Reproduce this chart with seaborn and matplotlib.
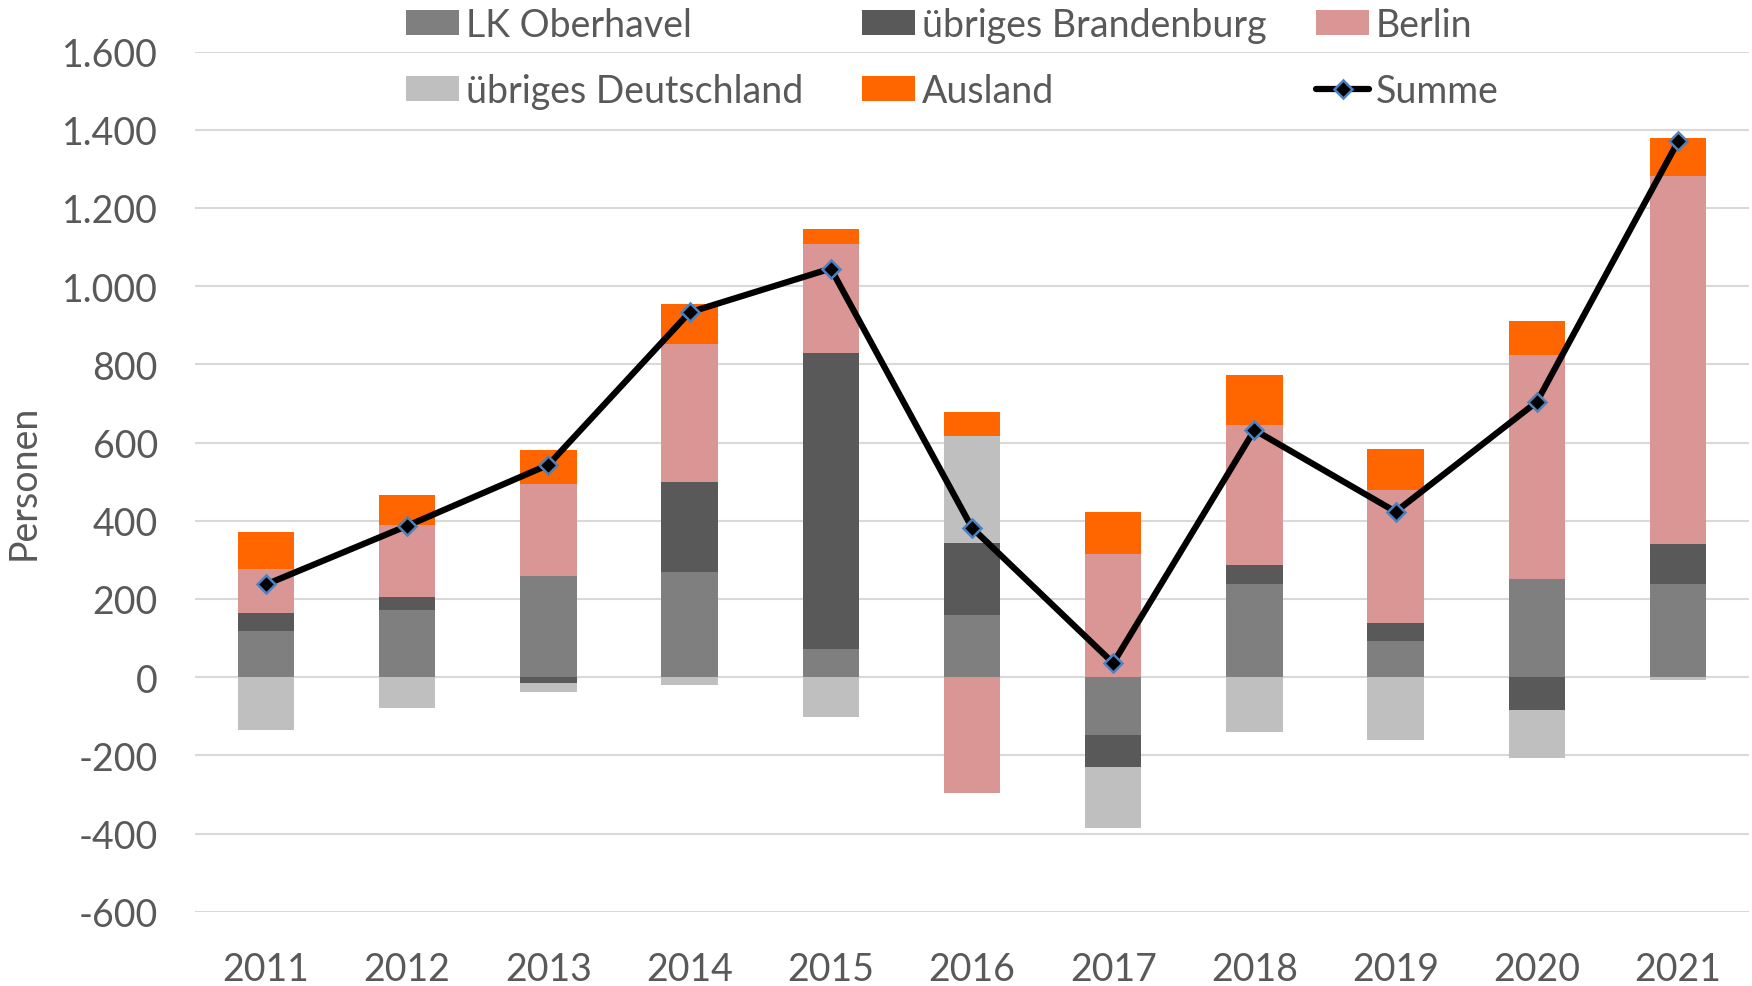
import numpy as np
import pandas as pd
import matplotlib
matplotlib.use("Agg")
import matplotlib.pyplot as plt
import seaborn as sns
from matplotlib.lines import Line2D
from matplotlib.patches import Patch

# ---- data ----
years = ["2011", "2012", "2013", "2014", "2015", "2016", "2017", "2018", "2019", "2020", "2021"]
lk_oberhavel = [119, 173, 258, 270, 71, 160, -148, 239, 93, 251, 237]
uebriges_brandenburg = [46, 31, -15, 228, 759, 184, -82, 47, 46, -84, 103]
berlin = [112, 184, 235, 354, 279, -297, 316, 359, 339, 573, 941]
uebriges_deutschland = [-134, -78, -23, -21, -102, 274, -157, -141, -161, -123, -8]
ausland = [94, 77, 88, 102, 38, 61, 107, 128, 106, 87, 97]
summe = [237, 387, 543, 933, 1045, 382, 36, 632, 423, 704, 1370]

series_names = ["LK Oberhavel", "übriges Brandenburg", "Berlin", "übriges Deutschland", "Ausland"]
series_values = [lk_oberhavel, uebriges_brandenburg, berlin, uebriges_deutschland, ausland]
colors = ["#7F7F7F", "#595959", "#D99694", "#BFBFBF", "#FF6600"]
yticks = [-600, -400, -200, 0, 200, 400, 600, 800, 1000, 1200, 1400, 1600]

TEXT = "#595959"
FS = 27

sns.set_theme(style="white")
plt.rcParams["font.family"] = ["Lato", "DejaVu Sans"]

fig = plt.figure(figsize=(17.52, 9.87), dpi=100)
ax = fig.add_axes([0.1115, 0.0752, 0.8866, 0.8716])

vals = np.array(series_values, dtype=float)
cum_pos = np.cumsum(np.clip(vals, 0, None), axis=0)
cum_neg = np.cumsum(np.clip(vals, None, 0), axis=0)

# paint cumulative stacks from top layer downwards
for i in reversed(range(len(series_names))):
    for cum in (cum_pos, cum_neg):
        df = pd.DataFrame({"Jahr": years, "wert": cum[i]})
        sns.barplot(data=df, x="Jahr", y="wert", order=years, color=colors[i],
                    saturation=1, width=0.4, linewidth=0, errorbar=None, ax=ax,
                    zorder=2)

sns.lineplot(x=np.arange(len(years)), y=summe, ax=ax, color="black", linewidth=4.5,
             marker="D", markersize=9.5, markerfacecolor="black",
             markeredgecolor="#4F81BD", markeredgewidth=1.8, zorder=5)

ax.set_xlim(-0.5, len(years) - 0.5)
ax.set_ylim(-600, 1600)
ax.set_yticks(yticks)
ax.set_yticklabels([f"{v:,}".replace(",", ".") for v in yticks])
ax.set_xticks(np.arange(len(years)))
ax.set_xticklabels(years)
ax.set_axisbelow(True)
ax.grid(axis="y", color="#D9D9D9", linewidth=1.5)
ax.grid(axis="x", visible=False)
for s in ax.spines.values():
    s.set_visible(False)
ax.tick_params(axis="y", length=0, pad=27, labelsize=FS, labelcolor=TEXT)
ax.tick_params(axis="x", length=0, pad=28, labelsize=FS, labelcolor=TEXT)
ax.set_xlabel("")
ax.set_ylabel("Personen", fontsize=FS, color=TEXT)
ax.yaxis.set_label_coords(-0.099, 0.5)

# legend: three columns placed individually
handles = [Patch(facecolor=c, edgecolor="none") for c in colors]
summe_handle = Line2D([0], [0], color="black", linewidth=4.5, marker="D", markersize=9.5,
                      markerfacecolor="black", markeredgecolor="#4F81BD", markeredgewidth=1.8)
cols = [
    ([handles[0], handles[3]], [series_names[0], series_names[3]], 406),
    ([handles[1], handles[4]], [series_names[1], series_names[4]], 862),
    ([handles[2], summe_handle], [series_names[2], "Summe"], 1316),
]
for h, l, xpx in cols:
    fig.legend(h, l, loc="center left", bbox_to_anchor=(xpx / 1752, 1 - 59 / 987),
               frameon=False, fontsize=FS, labelcolor=TEXT, borderpad=0,
               borderaxespad=0, handlelength=1.42, handleheight=0.66,
               handletextpad=0.17, labelspacing=0.8)

fig.savefig("out.png", dpi=100)
